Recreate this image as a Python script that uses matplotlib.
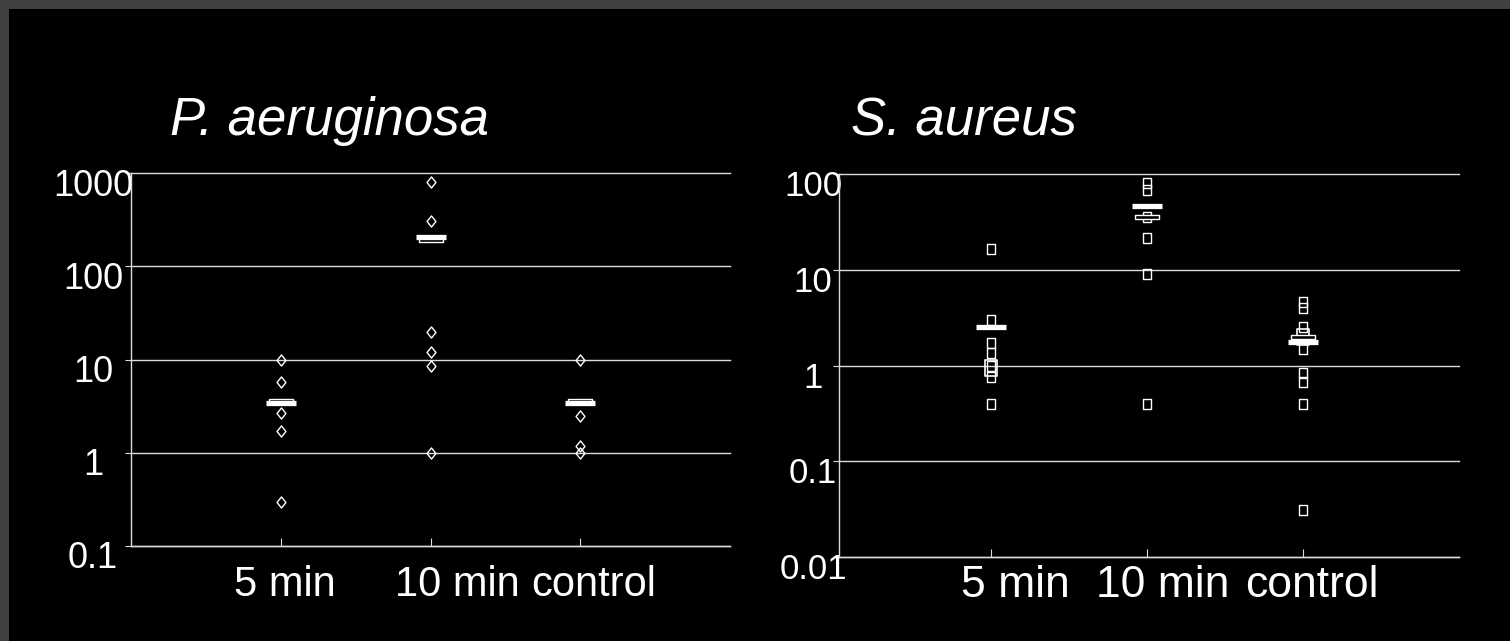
import numpy as np
import matplotlib.pyplot as plt
from matplotlib.path import Path
from matplotlib.patches import Rectangle
from matplotlib.transforms import ScaledTranslation

plt.rcParams['font.family'] = ['Liberation Sans', 'DejaVu Sans']

groups = ['5 min', '10 min', 'control']

# P. aeruginosa
pa_5min = [10, 5.8, 2.7, 1.7, 0.3]
pa_10min = [800, 305, 19.6, 12.1, 8.5, 1.0]
pa_control = [10, 2.45, 1.18, 1.0]
pa_mean = [3.4, 207, 3.4]
pa_median = [3.6, 190, 3.6]

# S. aureus
sa_5min = [16.6, 3.0, 1.73, 1.34, 0.99, 0.76, 0.40]
sa_10min = [81, 68, 35.8, 21.5, 9.1, 0.40]
sa_control = [4.64, 3.95, 2.54, 1.49, 0.83, 0.67, 0.40, 0.031]
sa_pooled_groups = ['5 min', 'control']
sa_pooled = [0.95, 1.99]
sa_mean = [2.5, 46, 1.75]
sa_median_groups = ['10 min', 'control']
sa_median = [35.8, 1.97]

pa_yticks = [0.1, 1, 10, 100, 1000]
pa_ylabels = ['0.1', '1', '10', '100', '1000']
sa_yticks = [0.01, 0.1, 1, 10, 100]
sa_ylabels = ['0.01', '0.1', '1', '10', '100']

# marker shapes
diamond = Path([(0, 1), (0.8, 0), (0, -1), (-0.8, 0), (0, 1)], closed=True)
box = Path([(-0.8, -1), (0.8, -1), (0.8, 1), (-0.8, 1), (-0.8, -1)], closed=True)
flat_box = Path([(-1, -0.17), (1, -0.17), (1, 0.17), (-1, 0.17), (-1, -0.17)], closed=True)

LINE = '#dcdcdc'

fig = plt.figure(figsize=(15.1, 6.41), dpi=100, facecolor='#404040')
fig.patches.append(Rectangle((9 / 1510, 0), 1, 1 - 9 / 641, transform=fig.transFigure,
                             facecolor='black', edgecolor='none', zorder=-1))


def setup(ax, yticks, ylabels, ylim, xlim, ysize, ypad, xsize, xpad, xshift):
    ax.set_facecolor('black')
    ax.set_yscale('log')
    ax.set_ylim(*ylim)
    ax.set_xlim(*xlim)
    ax.set_yticks(yticks)
    ax.set_yticklabels(ylabels)
    ax.yaxis.set_minor_locator(plt.NullLocator())
    ax.set_xticks([1, 2, 3])
    ax.set_xticklabels(groups)
    for s in ['top', 'right']:
        ax.spines[s].set_visible(False)
    for s in ['left', 'bottom']:
        ax.spines[s].set_color(LINE)
        ax.spines[s].set_linewidth(1.0)
    ax.yaxis.grid(True, color=LINE, lw=1.0)
    for gl in ax.get_ygridlines():
        gl.set_clip_on(False)
    ax.tick_params(axis='y', direction='out', length=4.3, width=0.8, color=LINE,
                   labelcolor='white', labelsize=ysize, pad=ypad)
    ax.tick_params(axis='x', direction='in', length=5.8, width=0.8, color=LINE,
                   labelcolor='white', labelsize=xsize, pad=xpad)
    for lab in ax.get_yticklabels():
        lab.set_ha('center')
        lab.set_transform(lab.get_transform() + ScaledTranslation(0, -0.09, fig.dpi_scale_trans))
    for lab, dx in zip(ax.get_xticklabels(), xshift):
        lab.set_transform(lab.get_transform() + ScaledTranslation(dx / 100, 0, fig.dpi_scale_trans))


def points(ax, x, vals, marker, ms):
    ax.plot([x] * len(vals), vals, ls='none', marker=marker, ms=ms, mfc='none',
            mec='white', mew=1.0, clip_on=False, zorder=3)


def bars(ax, vals, xs=(1, 2, 3)):
    ax.plot(xs, vals, ls='none', marker='_', ms=21.6, mew=3.8, color='white',
            clip_on=False, zorder=4)


def outline_bars(ax, xs, vals):
    ax.plot(xs, vals, ls='none', marker=flat_box, ms=17.3, mfc='black', mec='white',
            mew=1.0, clip_on=False, zorder=4)


# left panel
ax1 = fig.add_axes([131 / 1510, 1 - 546 / 641, 599 / 1510, 373 / 641])
setup(ax1, pa_yticks, pa_ylabels, (0.1, 1000), (0, 4), 26, 23, 30, 14, [4.5, 27, 13])
for i, vals in enumerate([pa_5min, pa_10min, pa_control]):
    points(ax1, i + 1, vals, diamond, 8)
outline_bars(ax1, [1, 2, 3], pa_median)
bars(ax1, pa_mean)
fig.text(170 / 1510, 1 - 135 / 641, 'P. aeruginosa', style='italic', color='white',
         fontsize=38, va='baseline')

# right panel
ax2 = fig.add_axes([839 / 1510, 1 - 557 / 641, 620 / 1510, 383 / 641])
setup(ax2, sa_yticks, sa_ylabels, (0.01, 100), (0.026, 4.0), 25, 14.4, 32, 6, [24, 16, 9])
for i, vals in enumerate([sa_5min, sa_10min, sa_control]):
    points(ax2, i + 1, vals, box, 7)
points_x = [groups.index(g) + 1 for g in sa_pooled_groups]
ax2.plot(points_x, sa_pooled, ls='none', marker=box, ms=11.5, mfc='none', mec='white',
         mew=1.2, zorder=3)
bars(ax2, sa_mean)
outline_bars(ax2, [groups.index(g) + 1 for g in sa_median_groups], sa_median)
fig.text(851 / 1510, 1 - 135 / 641, 'S. aureus', style='italic', color='white',
         fontsize=38, va='baseline')

fig.savefig('out.png', dpi=100, facecolor=fig.get_facecolor())
